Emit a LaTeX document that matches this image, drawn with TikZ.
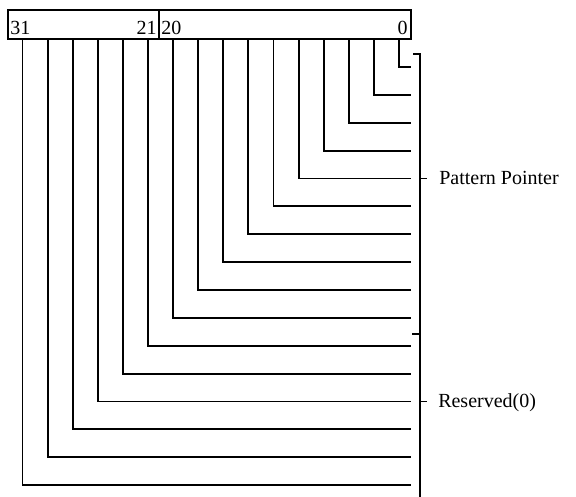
\documentclass[tikz,border=0pt]{standalone}
\usepackage{fontspec}
\setmainfont{Liberation Serif}
\usepackage{tikz}
\usetikzlibrary{positioning,calc}
\tikzset{
	wire/.style={draw=black,line width=1.4pt},
	regbox/.style={draw=black,line width=1.1pt},
	bitno/.style={inner sep=0pt,font=\fontsize{15}{18}\selectfont},
	fieldname/.style={inner sep=0pt,font=\fontsize{15}{18}\selectfont},
}

\begin{document}
\begin{tikzpicture}[x=0.75pt,y=-0.75pt]
	\useasboundingbox (0,0) rectangle (576,497);
	% register box
	\coordinate (boxNW) at (8,10);
	\coordinate (boxSE) at (411,39);
	\coordinate (split) at (159,10);
	\draw[regbox] (boxNW) rectangle (boxSE);
	\draw[regbox] (split) -- (split |- boxSE);
	\node[bitno,anchor=base west] (b31) at (10,34) {31};
	\node[bitno,anchor=base east] (b21) at (157,34) {21};
	\node[bitno,anchor=base west] (b20) at (161,34) {20};
	\node[bitno,anchor=base east] (b0) at (408,34) {0};
	% one wire per bit group
	\foreach \k in {0,...,15} {
		\coordinate (t\k) at ({399-25.1*\k},39);
		\coordinate (e\k) at (411,{67+27.87*\k});
		\draw[wire] (t\k) |- (e\k);
	}
	% brace on the right
	\coordinate (brTop) at (420,54);
	\coordinate (brMid) at (420,334);
	\coordinate (brBot) at (420,497);
	\draw[wire] ($(brTop)+(-7,0)$) -- (brTop) -- (brBot);
	\draw[wire] (brMid) -- ++(-8,0);
	\coordinate (ptrTick) at (brTop |- e4);
	\coordinate (resTick) at (brTop |- e12);
	\draw[wire] (ptrTick) -- ++(7,0);
	\draw[wire] (resTick) -- ++(7,0);
	\node[fieldname,anchor=base west] (ptr) at ($(ptrTick)+(19,6.5)$) {Pattern Pointer};
	\node[fieldname,anchor=base west] (res) at ($(resTick)+(18,6.5)$) {Reserved(0)};
\end{tikzpicture}
\end{document}
